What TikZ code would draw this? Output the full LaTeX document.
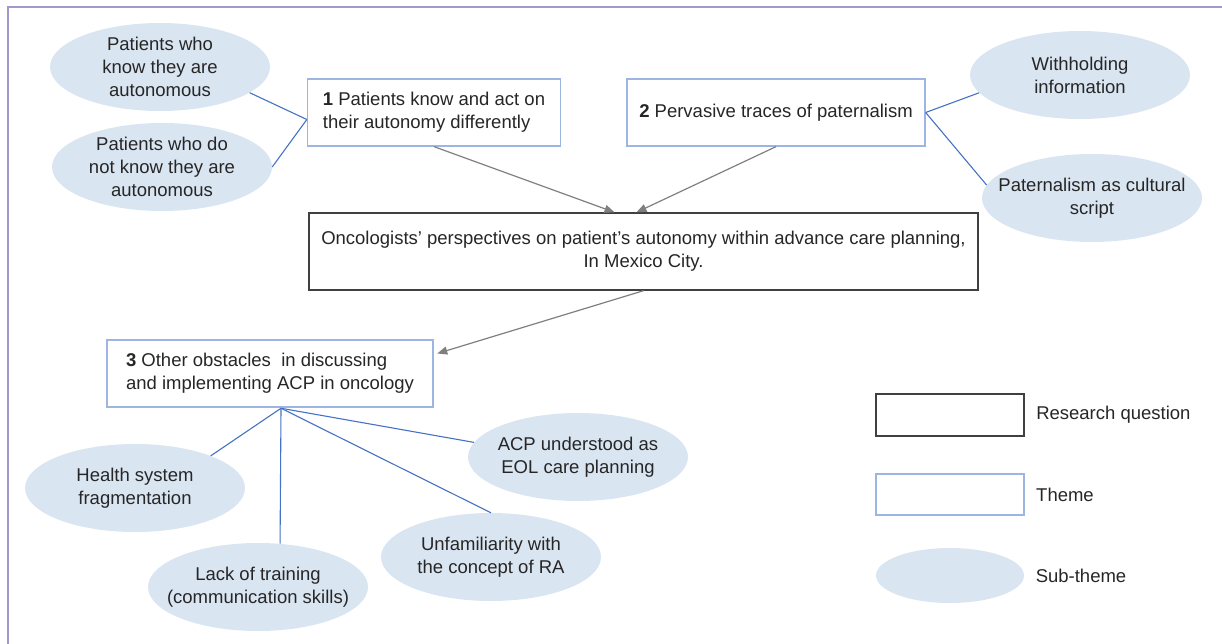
\documentclass[tikz,border=0pt]{standalone}
\usepackage{fontspec}
\setmainfont{Liberation Sans}
\usepackage{xcolor}
\usepackage{tikz}
\usetikzlibrary{positioning,shapes.geometric,arrows.meta}
\definecolor{framelav}{HTML}{9E99D1}
\definecolor{subfill}{HTML}{DAE5F2}
\definecolor{themeline}{HTML}{9DB5E3}
\definecolor{linkblue}{HTML}{4472C4}
\definecolor{arrowgray}{HTML}{7F7F7F}
\definecolor{rqline}{HTML}{404040}
\definecolor{txtgray}{HTML}{262626}
\tikzset{
  subtheme/.style={ellipse, fill=subfill, minimum width=220pt, minimum height=88pt,
    inner xsep=-40pt, inner ysep=-12pt, align=center},
  theme/.style={draw=themeline, line width=1.3pt, fill=white, align=left},
  question/.style={draw=rqline, line width=1.4pt, fill=white, align=center},
  link/.style={draw=linkblue, line width=1.1pt},
  flow/.style={draw=arrowgray, line width=1.2pt, -{Triangle[length=10pt,width=8pt]}}
}

\begin{document}
\begin{tikzpicture}[x=1pt,y=-1pt,font=\fontsize{18.5}{23}\selectfont,text=txtgray]
                    \useasboundingbox (0,0) rectangle (1222,644);
                    \draw[framelav,line width=2pt] (8,644) -- (8,7) -- (1222,7);

                    \node[subtheme] (knows) at (160,67) {Patients who\\know they are\\autonomous};
                    \node[subtheme] (notknows) at (162,167) {Patients who do\\not know they are\\autonomous};
                    \node[theme,minimum width=253pt,minimum height=67pt] (t1) at (434,112.5)
                        {\textbf{1} Patients know and act on\\their autonomy differently};
                    \node[theme,minimum width=298pt,minimum height=67pt] (t2) at (776,112.5)
                        {\textbf{2} Pervasive traces of paternalism};
                    \node[subtheme] (withhold) at (1080,75) {Withholding\\information};
                    \node[subtheme] (script) at (1092,198) {Paternalism as cultural\\script};
                    \node[question,minimum width=669pt,minimum height=77pt] (rq) at (643.5,251.5)
                        {Oncologists’ perspectives on patient’s autonomy within advance care planning,\\In Mexico City.};
                    \node[theme,line width=2.5pt,minimum width=326pt,minimum height=67pt] (t3) at (270,373.5)
                        {\textbf{3} Other obstacles\ \ in discussing\\and implementing ACP in oncology};

                    \node[subtheme] (fragment) at (135,488) {Health system\\fragmentation};
                    \node[subtheme] (training) at (258,587) {Lack of training\\(communication skills)};
                    \node[subtheme] (unfamiliar) at (491,557) {Unfamiliarity with\\the concept of RA};
                    \node[subtheme] (eol) at (578,457) {ACP understood as\\EOL care planning};

                    \draw[link] ([yshift=-7pt]t1.west) -- (knows.-16);
                    \draw[link] ([yshift=-7pt]t1.west) -- (notknows.east);
                    \draw[link] (t2.east) -- (withhold.190);
                    \draw[link] (t2.east) -- (script.173);
                    \draw[link] ([xshift=11pt]t3.south) -- (fragment.23);
                    \draw[link] ([xshift=11pt]t3.south) -- (training.63);
                    \draw[link] ([xshift=11pt]t3.south) -- (unfamiliar.north);
                    \draw[link] ([xshift=11pt]t3.south) -- (eol.172);

                    \draw[flow] (t1.south) -- ([xshift=-29pt]rq.north);
                    \draw[flow] (t2.south) -- ([xshift=-7pt]rq.north);
                    \draw[flow] (rq.south) -- ([xshift=3pt,yshift=20pt]t3.east);

                    \node[question,minimum width=148pt,minimum height=42pt] (lgq) at (950,415) {};
                    \node[theme,minimum width=148pt,minimum height=41pt] (lgt) at (950,494.5) {};
                    \node[subtheme,minimum width=148pt,minimum height=55pt] (lgs) at (950,575.5) {};
                    \node[right=8pt of lgq] (lgqtext) {Research question};
                    \node[right=8pt of lgt] (lgttext) {Theme};
                    \node[right=8pt of lgs] (lgstext) {Sub-theme};
                \end{tikzpicture}
\end{document}
